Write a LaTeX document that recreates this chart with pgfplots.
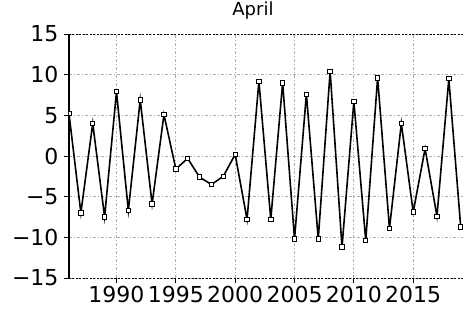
\documentclass[border=0pt]{standalone}
\usepackage{pgfplots}
\pgfplotsset{compat=1.18}
\usepackage{fontspec}
\setmainfont{DejaVu Sans}
\newfontfamily\djfont{DejaVu Sans}
\pgfplotstableread{
year val
1986 5.2
1987 -7.0
1988 4.0
1989 -7.5
1990 7.9
1991 -6.7
1992 6.9
1993 -5.9
1994 5.1
1995 -1.6
1996 -0.3
1997 -2.6
1998 -3.5
1999 -2.5
2000 0.2
2001 -7.8
2002 9.2
2003 -7.8
2004 9.0
2005 -10.2
2006 7.6
2007 -10.2
2008 10.4
2009 -11.2
2010 6.7
2011 -10.4
2012 9.6
2013 -8.9
2014 4.0
2015 -6.9
2016 0.9
2017 -7.4
2018 9.5
2019 -8.7
}\datatable
\begin{document}
\begin{tikzpicture}
\path[use as bounding box] (-69pt,-38pt) rectangle (394pt,278pt);
\begin{axis}[
  at={(0pt,0pt)}, anchor=south west,
  scale only axis,
  width=400pt, height=244pt,
  xmin=1986, xmax=2019.7,
  ymin=-15, ymax=15,
  xtick={1990,1995,2000,2005,2010,2015},
  xticklabels={1990,1995,2000,2005,2010,2015},
  ytick={-15,-10,-5,0,5,10,15},
  yticklabels={−15,−10,−5,0,5,10,15},
  tick label style={font=\djfont\fontsize{22}{22}\selectfont, text=black},
  yticklabel style={xshift=-2pt},
  tick align=outside,
  major tick length=5pt,
  tick style={black, line width=0.9pt},
  xtick pos=bottom, ytick pos=left,
  grid=major,
  grid style={gray!65, line width=0.8pt, dash pattern=on 3pt off 2pt on 1pt off 2pt},
  separate axis lines,
  x axis line style={black, line width=0.9pt, dash pattern=on 2pt off 1.5pt},
  y axis line style={black, line width=1.3pt},
  title={April},
  title style={at={(0.46,1)}, anchor=base, yshift=13pt, font=\djfont\fontsize{18}{18}\selectfont},
  clip marker paths=true,
]
\addplot[black, line width=1.6pt, mark=square*, mark size=2.2pt, mark options={fill=white, line width=0.9pt, solid}] table[x=year, y=val] {\datatable};
\end{axis}
\end{tikzpicture}
\end{document}
